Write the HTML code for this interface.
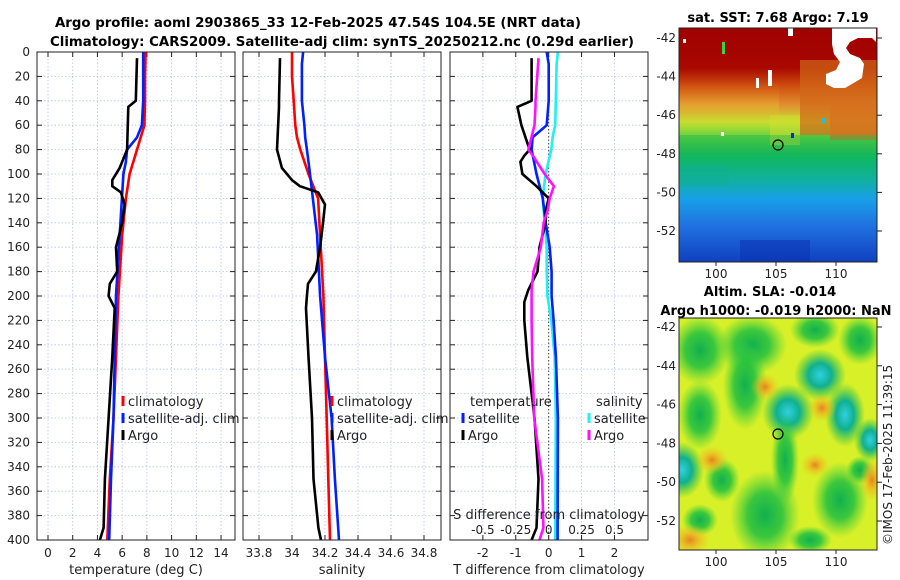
<!DOCTYPE html>
<html><head><meta charset="utf-8"><style>
body{margin:0;background:#fff;width:900px;height:580px;overflow:hidden}
svg{display:block;font-family:"DejaVu Sans","Liberation Sans",sans-serif}
</style></head><body>
<svg id="fig" width="900" height="580" viewBox="0 0 900 580" xmlns="http://www.w3.org/2000/svg">
<defs>
<clipPath id="clipSla"><rect x="679" y="318" width="198" height="232"/></clipPath>
<clipPath id="clipSst"><rect x="679" y="28" width="198" height="234"/></clipPath>
<linearGradient id="sstg" x1="0" y1="0" x2="0" y2="1">
<stop offset="0" stop-color="#a00000"/><stop offset="0.17" stop-color="#a80800"/>
<stop offset="0.25" stop-color="#d05010"/><stop offset="0.33" stop-color="#e09030"/>
<stop offset="0.40" stop-color="#c8e030"/><stop offset="0.47" stop-color="#60d040"/>
<stop offset="0.55" stop-color="#10b860"/><stop offset="0.65" stop-color="#10b0a0"/>
<stop offset="0.73" stop-color="#18a0e8"/><stop offset="0.85" stop-color="#2070e0"/>
<stop offset="1" stop-color="#1040c0"/></linearGradient>
<linearGradient id="leftband" x1="0" y1="0" x2="0" y2="1">
<stop offset="0" stop-color="#d05010" stop-opacity="0"/><stop offset="0.5" stop-color="#e8b030" stop-opacity="0.6"/><stop offset="1" stop-color="#c0e030" stop-opacity="0"/></linearGradient>
<radialGradient id="gb"><stop offset="0" stop-color="#10b050"/><stop offset="0.5" stop-color="#20c040" stop-opacity="0.85"/><stop offset="1" stop-color="#40d040" stop-opacity="0"/></radialGradient>
<radialGradient id="ob"><stop offset="0" stop-color="#e88020"/><stop offset="0.5" stop-color="#f0b020" stop-opacity="0.6"/><stop offset="1" stop-color="#f0c020" stop-opacity="0"/></radialGradient>
<radialGradient id="cb"><stop offset="0" stop-color="#30d0e0"/><stop offset="0.45" stop-color="#10b090"/><stop offset="1" stop-color="#20c040" stop-opacity="0"/></radialGradient>
</defs>
<g id="titles" font-weight="bold" font-size="13" fill="#000">
<text x="318" y="27" text-anchor="middle" textLength="526" lengthAdjust="spacingAndGlyphs">Argo profile: aoml 2903865_33 12-Feb-2025 47.54S 104.5E (NRT data)</text>
<text x="342" y="46" text-anchor="middle" textLength="584" lengthAdjust="spacingAndGlyphs">Climatology: CARS2009. Satellite-adj clim: synTS_20250212.nc (0.29d earlier)</text>
</g>
<g id="panels"></g>
<g id="maps">
<text x="778" y="22" text-anchor="middle" font-weight="bold" font-size="13">sat. SST: 7.68 Argo: 7.19</text>
<g clip-path="url(#clipSst)">
<rect x="679" y="28" width="198" height="234" fill="url(#sstg)"/>
<rect x="679" y="80" width="100" height="50" fill="url(#leftband)"/>
<rect x="800" y="60" width="77" height="75" fill="#d06818" opacity="0.7"/>
<rect x="830" y="100" width="47" height="40" fill="#d87020" opacity="0.7"/>
<rect x="770" y="115" width="30" height="30" fill="#d0e030" opacity="0.5"/>
<rect x="679" y="135" width="198" height="20" fill="#10b050" opacity="0.35"/>
<rect x="679" y="165" width="50" height="20" fill="#10b090" opacity="0.4"/>
<rect x="740" y="240" width="70" height="22" fill="#0830b0" opacity="0.5"/>
<path d="M832 28 H876 V42 L872 38 H858 L850 42 L846 48 L850 54 L860 58 L864 64 L862 78 L852 84 L845 88 L834 88 L826 84 V74 L836 70 L840 62 L834 54 L832 44 Z" fill="#fff"/>
<rect x="788" y="28" width="5" height="8" fill="#fff"/><rect x="768" y="70" width="4" height="16" fill="#fff"/>
<rect x="756" y="78" width="3" height="10" fill="#fff"/><rect x="683" y="39" width="3" height="4" fill="#fff"/>
<rect x="721" y="132" width="3" height="4" fill="#fff"/><rect x="791" y="133" width="3" height="5" fill="#1030c0"/>
<rect x="822" y="118" width="3" height="5" fill="#20c0e0"/><rect x="722" y="42" width="3" height="12" fill="#40d040"/>
<circle cx="778" cy="145" r="5" fill="none" stroke="#000" stroke-width="1.2"/>
</g>
<text x="770" y="296" text-anchor="middle" font-weight="bold" font-size="13">Altim. SLA: -0.014</text>
<text x="776" y="315" text-anchor="middle" font-weight="bold" font-size="13">Argo h1000: -0.019 h2000: NaN</text>
<g clip-path="url(#clipSla)">
<rect x="679" y="318" width="198" height="232" fill="#d8f028"/>
<ellipse cx="700" cy="350" rx="30" ry="35" fill="url(#gb)"/><ellipse cx="752" cy="345" rx="35" ry="30" fill="url(#gb)"/>
<ellipse cx="745" cy="385" rx="22" ry="45" fill="url(#gb)"/><ellipse cx="700" cy="415" rx="22" ry="35" fill="url(#gb)"/>
<ellipse cx="815" cy="330" rx="25" ry="18" fill="url(#gb)"/><ellipse cx="860" cy="340" rx="22" ry="25" fill="url(#gb)"/>
<ellipse cx="820" cy="375" rx="26" ry="26" fill="url(#cb)"/><ellipse cx="788" cy="412" rx="26" ry="28" fill="url(#cb)"/>
<ellipse cx="785" cy="460" rx="14" ry="45" fill="url(#gb)"/><ellipse cx="845" cy="415" rx="20" ry="32" fill="url(#cb)"/>
<ellipse cx="682" cy="470" rx="22" ry="28" fill="url(#cb)"/><ellipse cx="765" cy="515" rx="35" ry="45" fill="url(#gb)"/>
<ellipse cx="840" cy="500" rx="28" ry="38" fill="url(#gb)"/><ellipse cx="870" cy="440" rx="16" ry="22" fill="url(#cb)"/>
<ellipse cx="722" cy="480" rx="18" ry="22" fill="url(#gb)"/><ellipse cx="700" cy="520" rx="18" ry="16" fill="url(#gb)"/>
<ellipse cx="810" cy="540" rx="22" ry="14" fill="url(#gb)"/><ellipse cx="860" cy="470" rx="14" ry="14" fill="url(#gb)"/>
<ellipse cx="765" cy="387" rx="14" ry="14" fill="url(#ob)"/><ellipse cx="712" cy="460" rx="16" ry="14" fill="url(#ob)"/>
<ellipse cx="822" cy="408" rx="14" ry="14" fill="url(#ob)"/><ellipse cx="690" cy="540" rx="20" ry="16" fill="url(#ob)"/>
<ellipse cx="872" cy="480" rx="12" ry="22" fill="url(#ob)"/><ellipse cx="815" cy="465" rx="14" ry="12" fill="url(#ob)"/>
<circle cx="778" cy="434" r="5" fill="none" stroke="#000" stroke-width="1.2"/>
</g>
<g id="mapaxes" font-size="12" fill="#222"></g>
<text transform="translate(892,545) rotate(-90)" font-size="12" fill="#222">©IMOS 17-Feb-2025 11:39:15</text>
</g>
</svg>
<script>
// depth axis
const yTicks=[0,20,40,60,80,100,120,140,160,180,200,220,240,260,280,300,320,340,360,380,400];
// temperature panel
const tTicks=[0,2,4,6,8,10,12,14];
const depthClim=[0,20,40,60,70,80,100,120,150,200,250,300,350,400];
const tempClim=[7.9,7.85,7.85,7.8,7.5,7.2,6.6,6.3,6.0,5.7,5.5,5.3,5.0,4.8];
const depthSat=[0,10,40,60,70,80,90,100,150,200,250,300,350,400];
const tempSat=[7.7,7.7,7.7,7.6,7.2,6.4,6.3,6.1,5.8,5.5,5.4,5.3,5.1,4.95];
const depthArgo=[5,40,45,80,95,105,110,115,125,140,160,180,190,200,210,250,300,350,390,400];
const tempArgo=[7.2,7.1,6.5,6.4,5.8,5.2,5.2,5.9,6.2,6.0,5.5,5.6,5.0,4.9,5.4,5.2,4.9,4.6,4.5,4.2];
// salinity panel
const sTicks=[33.8,34,34.2,34.4,34.6,34.8];
const salClim=[34.0,34.0,34.01,34.02,34.03,34.05,34.1,34.158,34.17,34.19,34.2,34.21,34.22,34.23];
const salSat=[34.067,34.06,34.06,34.075,34.08,34.09,34.1,34.109,34.152,34.17,34.2,34.24,34.26,34.285];
const salArgo=[33.927,33.921,33.921,33.909,33.939,34.0,34.048,34.158,34.2,34.188,34.17,34.145,34.097,34.09,34.085,34.1,34.121,34.13,34.16,34.176];
// difference panel
const dTicks=[-2,-1,0,1,2];
const dsTicks=[-0.5,-0.25,0,0.25,0.5];
const dsTickLabels=["-0.5","-0.25","0","0.25","0.5"];
const depthDiffSat=[0,10,40,60,70,80,100,120,140,160,180,200,220,250,300,400];
const dTempSat=[-0.06,0,0,-0.06,-0.49,-0.52,-0.37,-0.18,-0.09,0.03,0.09,0.09,0.15,0.22,0.28,0.27];
const dSalSat=[0.07,0.06,0.054,0.05,0.03,0.02,-0.023,-0.046,-0.03,-0.015,-0.015,-0.01,0.02,0.046,0.054,0.05];
const depthDiffArgo=[5,40,45,60,80,85,90,100,110,120,130,140,160,180,195,205,220,250,300,350,390,400];
const dTempArgo=[-0.52,-0.52,-0.95,-0.83,-0.58,-0.74,-0.86,-0.8,-0.37,0,-0.09,-0.09,-0.28,-0.34,-0.62,-0.74,-0.74,-0.65,-0.43,-0.31,-0.37,-0.52];
const dSalArgo=[-0.077,-0.1,-0.1,-0.108,-0.154,-0.12,-0.09,-0.03,0.04,0.008,-0.008,-0.038,-0.06,-0.115,-0.13,-0.13,-0.13,-0.125,-0.11,-0.05,-0.04,-0.07];
// map axes
const latTicks=[-42,-44,-46,-48,-50,-52];
const lonTicks=[100,105,110];

const NS="http://www.w3.org/2000/svg";
const Y0=52,Y1=540;
const yScale=d=>Y0+(Y1-Y0)*d/400;
function el(tag,attrs,parent,txt){const e=document.createElementNS(NS,tag);for(const k in attrs)e.setAttribute(k,attrs[k]);if(txt!==undefined)e.textContent=txt;parent.appendChild(e);return e;}
const panels=document.getElementById('panels');
function panel(name,x0,x1,xmin,xmax){
  const g=el('g',{},panels);
  
  
  const xs=v=>x0+(x1-x0)*(v-xmin)/(xmax-xmin);
  return {g,xs,x0,x1};
}
function frame(p,ticks,labels){
  const {g,xs,x0,x1}=p;
  ticks.forEach(t=>{const x=xs(t);el('line',{x1:x,x2:x,y1:Y0,y2:Y1,stroke:'#b8c0e8','stroke-width':0.8,'stroke-dasharray':'1.5,2'},g);
    el('line',{x1:x,x2:x,y1:Y1,y2:Y1-5,stroke:'#222'},g);el('line',{x1:x,x2:x,y1:Y0,y2:Y0+5,stroke:'#222'},g);});
  yTicks.forEach(d=>{const y=yScale(d);el('line',{x1:x0,x2:x1,y1:y,y2:y,stroke:'#b8c0e8','stroke-width':0.8,'stroke-dasharray':'1.5,2'},g);
    el('line',{x1:x0,x2:x0+5,y1:y,y2:y,stroke:'#222'},g);el('line',{x1:x1,x2:x1-5,y1:y,y2:y,stroke:'#222'},g);});
  if(labels) ticks.forEach((t,i)=>{const tl=el('text',{x:xs(t),y:557,'text-anchor':'middle','font-size':12,fill:'#222'},g,labels[i]);
    
    });
}
function line(p,xs,ds,color,name){
  const pts=xs.map((v,i)=>p.xs(v).toFixed(1)+','+yScale(ds[i]).toFixed(1)).join(' ');
  const l=el('polyline',{points:pts,fill:'none',stroke:color,'stroke-width':2.6,'stroke-linejoin':'round'},p.g);
  
  
}
function box(p){el('rect',{x:p.x0,y:Y0,width:p.x1-p.x0,height:Y1-Y0,fill:'none',stroke:'#222','stroke-width':1},p.g);}
function legend(g,x,y,color,label){
  const e=el('g',{},g);
  
  
  el('line',{x1:x,x2:x,y1:y-10,y2:y,stroke:color,'stroke-width':3},e);
  el('text',{x:x+5,y:y,'font-size':13,fill:'#222'},e,label);
}
// panel 1
const p1=panel('temperature-panel',37,235,-0.89,15.13);
frame(p1,tTicks,tTicks.map(String));
line(p1,tempClim,depthClim,'#f00','temp-climatology-line');
line(p1,tempSat,depthSat,'#0020ff','temp-satellite-line');
line(p1,tempArgo,depthArgo,'#000','temp-argo-line');
box(p1);
yTicks.forEach(d=>{const t=el('text',{x:30,y:yScale(d)+4,'text-anchor':'end','font-size':12,fill:'#222'},p1.g,String(d));
  
  });
el('text',{x:136,y:574,'text-anchor':'middle','font-size':13,fill:'#222'},p1.g,'temperature (deg C)');
legend(p1.g,123,406,'#f00','climatology');legend(p1.g,123,423,'#0020ff','satellite-adj. clim');legend(p1.g,123,440,'#000','Argo');
// panel 2
const p2=panel('salinity-panel',243,441,33.703,34.903);
frame(p2,sTicks,sTicks.map(String));
line(p2,salClim,depthClim,'#f00','sal-climatology-line');
line(p2,salSat,depthSat,'#0020ff','sal-satellite-line');
line(p2,salArgo,depthArgo,'#000','sal-argo-line');
box(p2);
el('text',{x:342,y:574,'text-anchor':'middle','font-size':13,fill:'#222'},p2.g,'salinity');
legend(p2.g,332,406,'#f00','climatology');legend(p2.g,332,423,'#0020ff','satellite-adj. clim');legend(p2.g,332,440,'#000','Argo');
// panel 3
const p3=panel('difference-panel',450,648,-3.0,3.02);
frame(p3,dTicks,dTicks.map(String));
const p3s={g:p3.g,xs:v=>p3.xs(v*4),x0:450,x1:648};
el('line',{x1:p3.xs(0),x2:p3.xs(0),y1:Y0,y2:Y1,stroke:'#444','stroke-width':1,'stroke-dasharray':'1.5,2'},p3.g);
line(p3s,dSalSat,depthDiffSat,'#20f0f0','dsal-satellite-line');
line(p3,dTempSat,depthDiffSat,'#0020ff','dtemp-satellite-line');
line(p3,dTempArgo,depthDiffArgo,'#000','dtemp-argo-line');
line(p3s,dSalArgo,depthDiffArgo,'#ff10ff','dsal-argo-line');
box(p3);
el('text',{x:470,y:406,'font-size':13,fill:'#222'},p3.g,'temperature');
el('text',{x:596,y:406,'font-size':13,fill:'#222'},p3.g,'salinity');
legend(p3.g,463,423,'#0020ff','satellite');legend(p3.g,463,440,'#000','Argo');
legend(p3.g,589,423,'#20f0f0','satellite');legend(p3.g,589,440,'#ff10ff','Argo');
el('text',{x:549,y:519,'text-anchor':'middle','font-size':13,fill:'#222'},p3.g,'S difference from climatology');
dsTicks.forEach((t,i)=>{const tl=el('text',{x:p3s.xs(t),y:534,'text-anchor':'middle','font-size':12,fill:'#222'},p3.g,dsTickLabels[i]);
  
  });
el('text',{x:549,y:574,'text-anchor':'middle','font-size':13,fill:'#222'},p3.g,'T difference from climatology');
// map axes
const ma=document.getElementById('mapaxes');
[[28,262,38,231],[318,550,327,521]].forEach(([t,b,la,lb],k)=>{
  el('rect',{x:679,y:t,width:198,height:b-t,fill:'none',stroke:'#222'},ma);
  latTicks.forEach((v,i)=>{const y=la+(lb-la)*(v+42)/-10;
    el('line',{x1:877,x2:882,y1:y,y2:y,stroke:'#222'},ma);
    const tl=el('text',{x:676,y:y+4,'text-anchor':'end'},ma,String(v));
    
    });
  lonTicks.forEach(v=>{const x=716+(v-100)*12;
    el('line',{x1:x,x2:x,y1:b,y2:b+4,stroke:'#222'},ma);
    const tl=el('text',{x:x,y:b+16,'text-anchor':'middle'},ma,String(v));
    
    });
});
</script>
</body></html>
